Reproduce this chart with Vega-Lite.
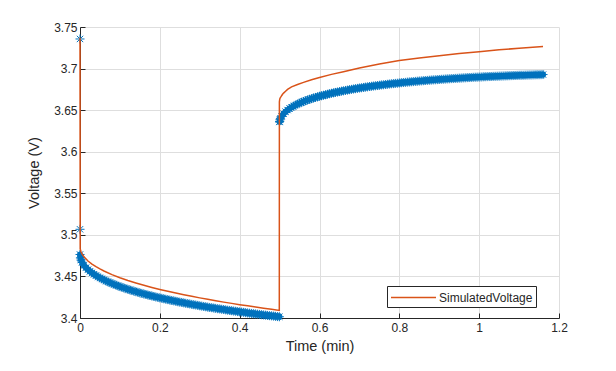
{
  "$schema": "https://vega.github.io/schema/vega-lite/v6.json",
  "width": 479,
  "height": 291,
  "autosize": {"type": "none"},
  "padding": {"left": 80, "top": 27, "right": 57, "bottom": 53},
  "background": "white",
  "config": {
    "view": {"stroke": null},
    "font": "Liberation Sans",
    "axis": {
      "domainColor": "#262626",
      "domainWidth": 1,
      "tickColor": "#262626",
      "tickSize": -5,
      "labelFlush": false,
      "labelColor": "#262626",
      "labelFont": "Liberation Sans",
      "labelFontSize": 12,
      "titleFont": "Liberation Sans",
      "titleFontSize": 14.5,
      "titleFontWeight": "normal",
      "titleColor": "#262626",
      "gridColor": "#dedede",
      "gridWidth": 1
    }
  },
  "datasets": {
    "measured": [
      {"t":0,"v":3.7356},{"t":0,"v":3.5067},{"t":0,"v":3.4764},
      {"t":0.001,"v":3.4722},{"t":0.0025,"v":3.4697},{"t":0.005,"v":3.4671},{"t":0.01,"v":3.4633},{"t":0.015,"v":3.4605},
      {"t":0.02,"v":3.4581},{"t":0.025,"v":3.4561},{"t":0.03,"v":3.4542},{"t":0.035,"v":3.4526},{"t":0.04,"v":3.4510},
      {"t":0.045,"v":3.4496},{"t":0.05,"v":3.4482},{"t":0.055,"v":3.4470},{"t":0.06,"v":3.4458},{"t":0.065,"v":3.4446},
      {"t":0.07,"v":3.4435},{"t":0.075,"v":3.4425},{"t":0.08,"v":3.4415},{"t":0.085,"v":3.4405},{"t":0.09,"v":3.4396},
      {"t":0.095,"v":3.4387},{"t":0.1,"v":3.4378},{"t":0.105,"v":3.4369},{"t":0.11,"v":3.4361},{"t":0.115,"v":3.4353},
      {"t":0.12,"v":3.4345},{"t":0.125,"v":3.4338},{"t":0.13,"v":3.4330},{"t":0.135,"v":3.4323},{"t":0.14,"v":3.4316},
      {"t":0.145,"v":3.4309},{"t":0.15,"v":3.4302},{"t":0.155,"v":3.4296},{"t":0.16,"v":3.4289},{"t":0.165,"v":3.4283},
      {"t":0.17,"v":3.4277},{"t":0.175,"v":3.4271},{"t":0.18,"v":3.4265},{"t":0.185,"v":3.4259},{"t":0.19,"v":3.4253},
      {"t":0.195,"v":3.4248},{"t":0.2,"v":3.4242},{"t":0.205,"v":3.4237},{"t":0.21,"v":3.4231},{"t":0.215,"v":3.4226},
      {"t":0.22,"v":3.4221},{"t":0.225,"v":3.4216},{"t":0.23,"v":3.4211},{"t":0.235,"v":3.4206},{"t":0.24,"v":3.4201},
      {"t":0.245,"v":3.4196},{"t":0.25,"v":3.4191},{"t":0.255,"v":3.4187},{"t":0.26,"v":3.4182},{"t":0.265,"v":3.4177},
      {"t":0.27,"v":3.4173},{"t":0.275,"v":3.4169},{"t":0.28,"v":3.4164},{"t":0.285,"v":3.4160},{"t":0.29,"v":3.4156},
      {"t":0.295,"v":3.4152},{"t":0.3,"v":3.4147},{"t":0.305,"v":3.4143},{"t":0.31,"v":3.4139},{"t":0.315,"v":3.4135},
      {"t":0.32,"v":3.4131},{"t":0.325,"v":3.4127},{"t":0.33,"v":3.4124},{"t":0.335,"v":3.4120},{"t":0.34,"v":3.4116},
      {"t":0.345,"v":3.4112},{"t":0.35,"v":3.4109},{"t":0.355,"v":3.4105},{"t":0.36,"v":3.4102},{"t":0.365,"v":3.4098},
      {"t":0.37,"v":3.4094},{"t":0.375,"v":3.4091},{"t":0.38,"v":3.4088},{"t":0.385,"v":3.4084},{"t":0.39,"v":3.4081},
      {"t":0.395,"v":3.4077},{"t":0.4,"v":3.4074},{"t":0.405,"v":3.4071},{"t":0.41,"v":3.4068},{"t":0.415,"v":3.4064},
      {"t":0.42,"v":3.4061},{"t":0.425,"v":3.4058},{"t":0.43,"v":3.4055},{"t":0.435,"v":3.4052},{"t":0.44,"v":3.4049},
      {"t":0.445,"v":3.4046},{"t":0.45,"v":3.4043},{"t":0.455,"v":3.4040},{"t":0.46,"v":3.4037},{"t":0.465,"v":3.4034},
      {"t":0.47,"v":3.4031},{"t":0.475,"v":3.4028},{"t":0.48,"v":3.4026},{"t":0.485,"v":3.4023},{"t":0.49,"v":3.4020},
      {"t":0.495,"v":3.4017},{"t":0.4995,"v":3.4015},
      {"t":0.4998,"v":3.6358},{"t":0.5,"v":3.6364},{"t":0.501,"v":3.6384},{"t":0.5025,"v":3.6403},{"t":0.505,"v":3.6425},
      {"t":0.51,"v":3.6457},{"t":0.515,"v":3.6481},{"t":0.52,"v":3.6501},{"t":0.525,"v":3.6519},{"t":0.53,"v":3.6534},
      {"t":0.535,"v":3.6548},{"t":0.54,"v":3.6561},{"t":0.545,"v":3.6573},{"t":0.55,"v":3.6584},{"t":0.555,"v":3.6594},
      {"t":0.56,"v":3.6604},{"t":0.565,"v":3.6613},{"t":0.57,"v":3.6622},{"t":0.575,"v":3.6630},{"t":0.58,"v":3.6638},
      {"t":0.585,"v":3.6646},{"t":0.59,"v":3.6653},{"t":0.595,"v":3.6660},{"t":0.6,"v":3.6667},{"t":0.605,"v":3.6673},
      {"t":0.61,"v":3.6679},{"t":0.615,"v":3.6685},{"t":0.62,"v":3.6691},{"t":0.625,"v":3.6697},{"t":0.63,"v":3.6703},
      {"t":0.635,"v":3.6708},{"t":0.64,"v":3.6713},{"t":0.645,"v":3.6718},{"t":0.65,"v":3.6723},{"t":0.655,"v":3.6728},
      {"t":0.66,"v":3.6732},{"t":0.665,"v":3.6737},{"t":0.67,"v":3.6741},{"t":0.675,"v":3.6746},{"t":0.68,"v":3.6750},
      {"t":0.685,"v":3.6754},{"t":0.69,"v":3.6758},{"t":0.695,"v":3.6762},{"t":0.7,"v":3.6766},{"t":0.705,"v":3.6769},
      {"t":0.71,"v":3.6773},{"t":0.715,"v":3.6777},{"t":0.72,"v":3.6780},{"t":0.725,"v":3.6784},{"t":0.73,"v":3.6787},
      {"t":0.735,"v":3.6790},{"t":0.74,"v":3.6793},{"t":0.745,"v":3.6796},{"t":0.75,"v":3.6799},{"t":0.755,"v":3.6803},
      {"t":0.76,"v":3.6805},{"t":0.765,"v":3.6808},{"t":0.77,"v":3.6811},{"t":0.775,"v":3.6814},{"t":0.78,"v":3.6817},
      {"t":0.785,"v":3.6819},{"t":0.79,"v":3.6822},{"t":0.795,"v":3.6824},{"t":0.8,"v":3.6827},{"t":0.805,"v":3.6830},
      {"t":0.81,"v":3.6832},{"t":0.815,"v":3.6834},{"t":0.82,"v":3.6837},{"t":0.825,"v":3.6839},{"t":0.83,"v":3.6841},
      {"t":0.835,"v":3.6843},{"t":0.84,"v":3.6846},{"t":0.845,"v":3.6848},{"t":0.85,"v":3.6850},{"t":0.855,"v":3.6852},
      {"t":0.86,"v":3.6854},{"t":0.865,"v":3.6856},{"t":0.87,"v":3.6858},{"t":0.875,"v":3.6860},{"t":0.88,"v":3.6862},
      {"t":0.885,"v":3.6864},{"t":0.89,"v":3.6865},{"t":0.895,"v":3.6867},{"t":0.9,"v":3.6869},{"t":0.905,"v":3.6871},
      {"t":0.91,"v":3.6872},{"t":0.915,"v":3.6874},{"t":0.92,"v":3.6876},{"t":0.925,"v":3.6877},{"t":0.93,"v":3.6879},
      {"t":0.935,"v":3.6880},{"t":0.94,"v":3.6882},{"t":0.945,"v":3.6883},{"t":0.95,"v":3.6885},{"t":0.955,"v":3.6886},
      {"t":0.96,"v":3.6888},{"t":0.965,"v":3.6889},{"t":0.97,"v":3.6891},{"t":0.975,"v":3.6892},{"t":0.98,"v":3.6893},
      {"t":0.985,"v":3.6895},{"t":0.99,"v":3.6896},{"t":0.995,"v":3.6897},{"t":1,"v":3.6898},{"t":1.005,"v":3.6899},
      {"t":1.01,"v":3.6901},{"t":1.015,"v":3.6902},{"t":1.02,"v":3.6903},{"t":1.025,"v":3.6904},{"t":1.03,"v":3.6905},
      {"t":1.035,"v":3.6906},{"t":1.04,"v":3.6907},{"t":1.045,"v":3.6908},{"t":1.05,"v":3.6909},{"t":1.055,"v":3.6910},
      {"t":1.06,"v":3.6911},{"t":1.065,"v":3.6912},{"t":1.07,"v":3.6913},{"t":1.075,"v":3.6914},{"t":1.08,"v":3.6915},
      {"t":1.085,"v":3.6916},{"t":1.09,"v":3.6917},{"t":1.095,"v":3.6918},{"t":1.1,"v":3.6919},{"t":1.105,"v":3.6920},
      {"t":1.11,"v":3.6920},{"t":1.115,"v":3.6921},{"t":1.12,"v":3.6922},{"t":1.125,"v":3.6923},{"t":1.13,"v":3.6923},
      {"t":1.135,"v":3.6924},{"t":1.14,"v":3.6925},{"t":1.145,"v":3.6926},{"t":1.15,"v":3.6926},{"t":1.155,"v":3.6927},
      {"t":1.16,"v":3.6928}
    ],
    "simulated": [
      {"t":0,"v":3.737},{"t":0.0005,"v":3.4832},{"t":0.0025,"v":3.4797},{"t":0.005,"v":3.4772},{"t":0.01,"v":3.4736},
      {"t":0.02,"v":3.4686},{"t":0.03,"v":3.4648},{"t":0.04,"v":3.4617},{"t":0.05,"v":3.4590},{"t":0.06,"v":3.4565},
      {"t":0.08,"v":3.4522},{"t":0.1,"v":3.4485},{"t":0.12,"v":3.4452},{"t":0.14,"v":3.4422},{"t":0.16,"v":3.4394},
      {"t":0.18,"v":3.4368},{"t":0.2,"v":3.4344},{"t":0.22,"v":3.4322},{"t":0.24,"v":3.4300},{"t":0.26,"v":3.4280},
      {"t":0.28,"v":3.4261},{"t":0.3,"v":3.4242},{"t":0.32,"v":3.4225},{"t":0.34,"v":3.4208},{"t":0.36,"v":3.4191},
      {"t":0.38,"v":3.4176},{"t":0.4,"v":3.4160},{"t":0.42,"v":3.4146},{"t":0.44,"v":3.4131},{"t":0.46,"v":3.4117},
      {"t":0.48,"v":3.4104},{"t":0.4993,"v":3.4091},
      {"t":0.4995,"v":3.6600},{"t":0.5005,"v":3.6635},{"t":0.502,"v":3.6652},{"t":0.504,"v":3.6665},{"t":0.507,"v":3.6688},
      {"t":0.51,"v":3.6705},{"t":0.515,"v":3.6727},{"t":0.52,"v":3.6750},{"t":0.53,"v":3.6780},{"t":0.545,"v":3.6808},
      {"t":0.56,"v":3.6834},{"t":0.58,"v":3.6866},{"t":0.6,"v":3.6893},{"t":0.63,"v":3.6930},{"t":0.66,"v":3.6962},
      {"t":0.7,"v":3.7008},{"t":0.75,"v":3.7055},{"t":0.8,"v":3.7096},{"t":0.85,"v":3.7128},{"t":0.9,"v":3.7155},
      {"t":0.95,"v":3.7180},{"t":1,"v":3.7203},{"t":1.05,"v":3.7225},{"t":1.1,"v":3.7245},{"t":1.16,"v":3.7264}
    ]
  },
  "encoding": {
    "x": {
      "field": "t", "type": "quantitative",
      "scale": {"domain": [0, 1.2], "nice": false, "zero": false},
      "axis": {
        "title": "Time (min)",
        "values": [0, 0.2, 0.4, 0.6, 0.8, 1, 1.2],
        "format": "~g",
        "labelPadding": 9,
        "titlePadding": 6,
        "grid": true
      }
    },
    "y": {
      "field": "v", "type": "quantitative",
      "scale": {"domain": [3.4, 3.75], "nice": false, "zero": false},
      "axis": {
        "title": "Voltage (V)",
        "values": [3.4, 3.45, 3.5, 3.55, 3.6, 3.65, 3.7, 3.75],
        "format": "~g",
        "labelPadding": 8,
        "titlePadding": 12,
        "grid": true
      }
    }
  },
  "layer": [
    {
      "data": {"name": "measured"},
      "transform": [{"filter": "datum.t <= 0.4995 && datum.v < 3.48"}],
      "mark": {"type": "line", "color": "#0072BD", "strokeWidth": 6, "strokeCap": "round"},
      "encoding": {}
    },
    {
      "data": {"name": "measured"},
      "transform": [{"filter": "datum.t >= 0.4998"}],
      "mark": {"type": "line", "color": "#0072BD", "strokeWidth": 6, "strokeCap": "round"},
      "encoding": {}
    },
    {
      "data": {"name": "measured"},
      "mark": {
        "type": "point",
        "shape": "M-1,0L1,0M0,-1L0,1M-0.7071,-0.7071L0.7071,0.7071M-0.7071,0.7071L0.7071,-0.7071",
        "filled": false,
        "stroke": "#0072BD",
        "strokeWidth": 1,
        "size": 81,
        "opacity": 1
      },
      "encoding": {}
    },
    {
      "data": {"name": "simulated"},
      "mark": {"type": "line", "strokeWidth": 1.5},
      "encoding": {
        "color": {
          "datum": "SimulatedVoltage",
          "type": "nominal",
          "scale": {"domain": ["SimulatedVoltage"], "range": ["#D95319"]},
          "legend": {
            "title": null,
            "orient": "none",
            "legendX": 307,
            "legendY": 259,
            "padding": 3,
            "strokeColor": "#262626",
            "fillColor": "white",
            "cornerRadius": 0,
            "symbolType": "M-3,0L3,0",
            "symbolSize": 225,
            "symbolOffset": 15,
            "symbolStrokeWidth": 1.5,
            "symbolStrokeColor": "#D95319",
            "labelFont": "Liberation Sans",
            "labelFontSize": 12,
            "labelColor": "#262626",
            "labelOffset": 17
          }
        }
      }
    }
  ]
}
